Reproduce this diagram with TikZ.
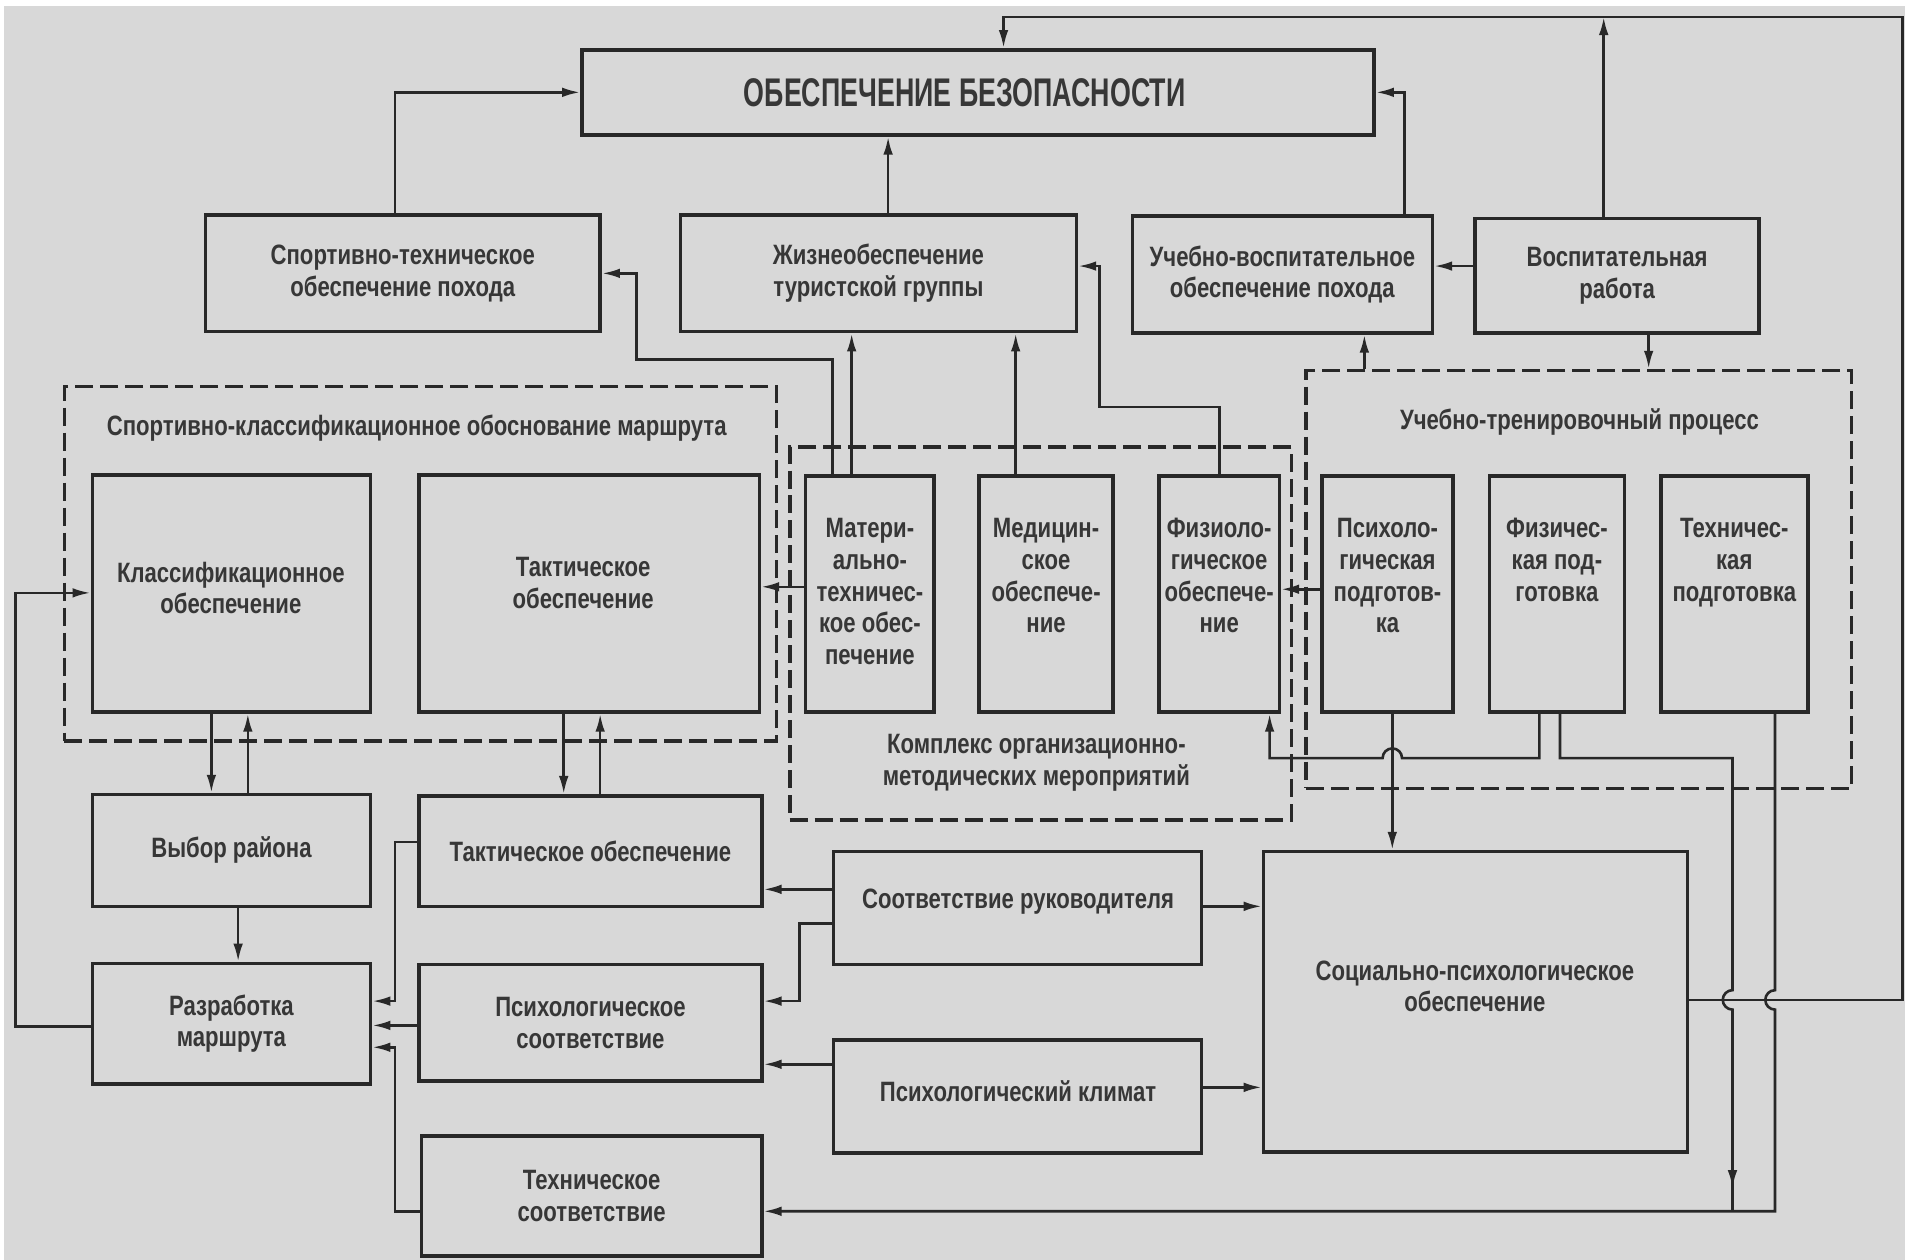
\documentclass[tikz,border=0pt]{standalone}
\usepackage{fontspec}
\setmainfont{Liberation Sans}[FakeStretch=0.79]
\newfontfamily\titlefont{Liberation Sans}[FakeStretch=0.67]
\usetikzlibrary{arrows.meta,calc}
\newdimen\upx \upx=0.6075pt
\definecolor{bg}{RGB}{216,216,216}
\definecolor{ink}{RGB}{40,40,40}
\definecolor{txt}{RGB}{55,55,55}
\newcommand\mybox[6]{\node[box,minimum width={(#4-#2)*\upx},minimum height={(#5-#3)*\upx}] (#1) at ({(#2+#4)/2},{(#3+#5)/2}) {#6};}
\newcommand\mydbox[5]{\node[dbox,minimum width={(#4-#2)*\upx},minimum height={(#5-#3)*\upx}] (#1) at ({(#2+#4)/2},{(#3+#5)/2}) {};}
\begin{document}
\begin{tikzpicture}[x=0.6075pt,y=-0.6075pt,
  boxfont/.style={font=\bfseries\fontsize{14}{15.8}\selectfont},
  box/.style={draw=ink,line width=1.8pt,fill=bg,inner sep=0pt,align=center,text=txt,boxfont},
  dbox/.style={draw=ink,line width=1.8pt,dash pattern=on 9pt off 3.5pt,inner sep=0pt},
  lbl/.style={text=txt,align=center,inner sep=0pt,boxfont},
  conn/.style={draw=ink,line width=1.3pt},
  arr/.style={conn,-{Latex[length=9pt,width=4.8pt]}}]
\useasboundingbox (0,0) rectangle (1568,1037);
\fill[white] (0,0) rectangle (1568,1037);
\fill[bg] (3,5) rectangle (1568,1037);

% dashed groups
\mydbox{grpA}{53}{318}{639}{610}
\mydbox{grpB}{650}{368}{1063}{675}
\mydbox{grpC}{1075}{305}{1524}{649}
\node[lbl] (lblA) at (343,352) {Спортивно-классификационное обоснование маршрута};
\node[lbl] (lblB) at (853,628) {Комплекс организационно-\\методических мероприятий};
\node[lbl] (lblC) at (1300,347) {Учебно-тренировочный процесс};

% boxes
\mybox{obesp}{479}{41}{1131}{111}{}
\mybox{sport}{169}{177}{494}{273}{Спортивно-техническое\\обеспечение похода}
\mybox{zhizn}{560}{177}{886}{273}{Жизнеобеспечение\\туристской группы}
\mybox{uchvos}{932}{178}{1179}{274}{Учебно-воспитательное\\обеспечение похода}
\mybox{vosp}{1214}{180}{1448}{274}{Воспитательная\\работа}
\mybox{klass}{76}{391}{305}{586}{}
\mybox{taktA}{345}{391}{625}{586}{}
\mybox{matr}{663}{392}{769}{586}{}
\mybox{med}{806}{392}{916}{586}{}
\mybox{fiziol}{954}{392}{1053}{586}{}
\mybox{psypod}{1088}{392}{1196}{586}{}
\mybox{fizich}{1226}{392}{1337}{586}{}
\mybox{tehpod}{1367}{392}{1488}{586}{}
\mybox{vybor}{76}{654}{305}{746}{Выбор района}
\mybox{taktB}{345}{655}{627}{746}{Тактическое обеспечение}
\mybox{razrab}{76}{793}{305}{892}{Разработка\\маршрута}
\mybox{psysoot}{345}{794}{627}{890}{Психологическое\\соответствие}
\mybox{tehsoot}{347}{935}{627}{1034}{Техническое\\соответствие}
\mybox{socruk}{686}{701}{989}{794}{}
\mybox{psyklim}{686}{856}{989}{949}{}
\mybox{socpsy}{1040}{701}{1389}{948}{}

% texts placed off-centre inside boxes
\node[lbl,font=\titlefont\bfseries\fontsize{20}{22}\selectfont] (tobesp) at (794,76) {ОБЕСПЕЧЕНИЕ БЕЗОПАСНОСТИ};
\node[lbl] (tklass) at (190,484) {Классификационное\\обеспечение};
\node[lbl] (ttaktA) at (480,480) {Тактическое\\обеспечение};
\node[lbl,anchor=north] (tmatr) at ($(matr.north)+(0,36)$) {Матери-\\ально-\\техничес-\\кое обес-\\печение};
\node[lbl,anchor=north] (tmed) at ($(med.north)+(0,36)$) {Медицин-\\ское\\обеспече-\\ние};
\node[lbl,anchor=north] (tfiziol) at ($(fiziol.north)+(0,36)$) {Физиоло-\\гическое\\обеспече-\\ние};
\node[lbl,anchor=north] (tpsypod) at ($(psypod.north)+(0,36)$) {Психоло-\\гическая\\подготов-\\ка};
\node[lbl,anchor=north] (tfizich) at ($(fizich.north)+(0,36)$) {Физичес-\\кая под-\\готовка};
\node[lbl,anchor=north] (ttehpod) at ($(tehpod.north)+(0,36)$) {Техничес-\\кая\\подготовка};
\node[lbl] (tsocruk) at (838,742) {Соответствие руководителя};
\node[lbl] (tpsyklim) at (838,898) {Психологический климат};
\node[lbl] (tsocpsy) at (1214,812) {Социально-психологическое\\обеспечение};

% connectors, upper part
\draw[arr] (sport.north -| 325,0) |- (obesp.west);
\draw[arr] (zhizn.north -| 731,0) -- (obesp.south -| 731,0);
\draw[arr] (uchvos.north -| 1156,0) |- (obesp.east);
\coordinate (topR) at (1566,14);
\coordinate (topL) at (826,14);
\draw[arr] (socpsy.east |- 0,823) -| (topR) -- (topL) -- (obesp.north -| topL);
\draw[arr] (vosp.north -| 1320,0) -- (1320,14);
\draw[arr] (vosp.west |- 0,219) -- (uchvos.east |- 0,219);
\draw[arr] (vosp.south -| 1357,0) -- (grpC.north -| 1357,0);
\draw[arr] (grpC.north -| 1123,0) -- (uchvos.south -| 1123,0);
\draw[arr] (fiziol.north -| 1004,0) -- (1004,335) -- (905,335) -- (905,219) -- (zhizn.east |- 0,219);
\draw[arr] (matr.north -| 685,0) -- (685,296) -- (524,296) -- (524,225) -- (sport.east |- 0,225);
\draw[arr] (matr.north -| 701,0) -- (zhizn.south -| 701,0);
\draw[arr] (med.north -| 836,0) -- (zhizn.south -| 836,0);
\draw[arr] (matr.west |- 0,483) -- (taktA.east |- 0,483);
\draw[arr] (psypod.west |- 0,485) -- (fiziol.east |- 0,485);

% connectors, right part
\draw[arr] (fizich.south -| 1267,0) -- (1267,624) -- (1154,624) arc[start angle=0,end angle=-180,radius=8] -- (1045,624) -- (fiziol.south -| 1045,0);
\draw[arr] (psypod.south -| 1146,0) -- (socpsy.north -| 1146,0);
\coordinate (jt) at (1426,997);
\draw[arr] (fizich.south -| 1284,0) -- (1284,624) -- (1426,624) -- (1426,815) arc[start angle=-90,end angle=-270,radius=8] -- (1426,978);
\draw[conn] (1426,970) -- (jt);
\draw[arr] (tehpod.south -| 1461,0) -- (1461,815) arc[start angle=-90,end angle=-270,radius=8] -- (1461,997) -- (tehsoot.east |- 0,997);

% connectors, lower part
\draw[arr] (socruk.west |- 0,732) -- (taktB.east |- 0,732);
\draw[arr] (socruk.west |- 0,760) -- (658,760) -- (658,824) -- (psysoot.east |- 0,824);
\draw[arr] (socruk.east |- 0,746) -- (socpsy.west |- 0,746);
\draw[arr] (psyklim.west |- 0,876) -- (psysoot.east |- 0,876);
\draw[arr] (psyklim.east |- 0,895) -- (socpsy.west |- 0,895);
\draw[arr] (taktB.west |- 0,693) -- (325,693) -- (325,824) -- (razrab.east |- 0,824);
\draw[arr] (psysoot.west |- 0,844) -- (razrab.east |- 0,844);
\draw[arr] (tehsoot.west |- 0,997) -- (325,997) -- (325,862) -- (razrab.east |- 0,862);
\draw[arr] (razrab.west |- 0,845) -- (13,845) -- (13,488) -- (klass.west |- 0,488);
\draw[arr] (vybor.south -| 196,0) -- (razrab.north -| 196,0);
\draw[arr] (klass.south -| 174,0) -- (vybor.north -| 174,0);
\draw[arr] (vybor.north -| 204,0) -- (klass.south -| 204,0);
\draw[arr] (taktA.south -| 464,0) -- (taktB.north -| 464,0);
\draw[arr] (taktB.north -| 494,0) -- (taktA.south -| 494,0);
\end{tikzpicture}
\end{document}
